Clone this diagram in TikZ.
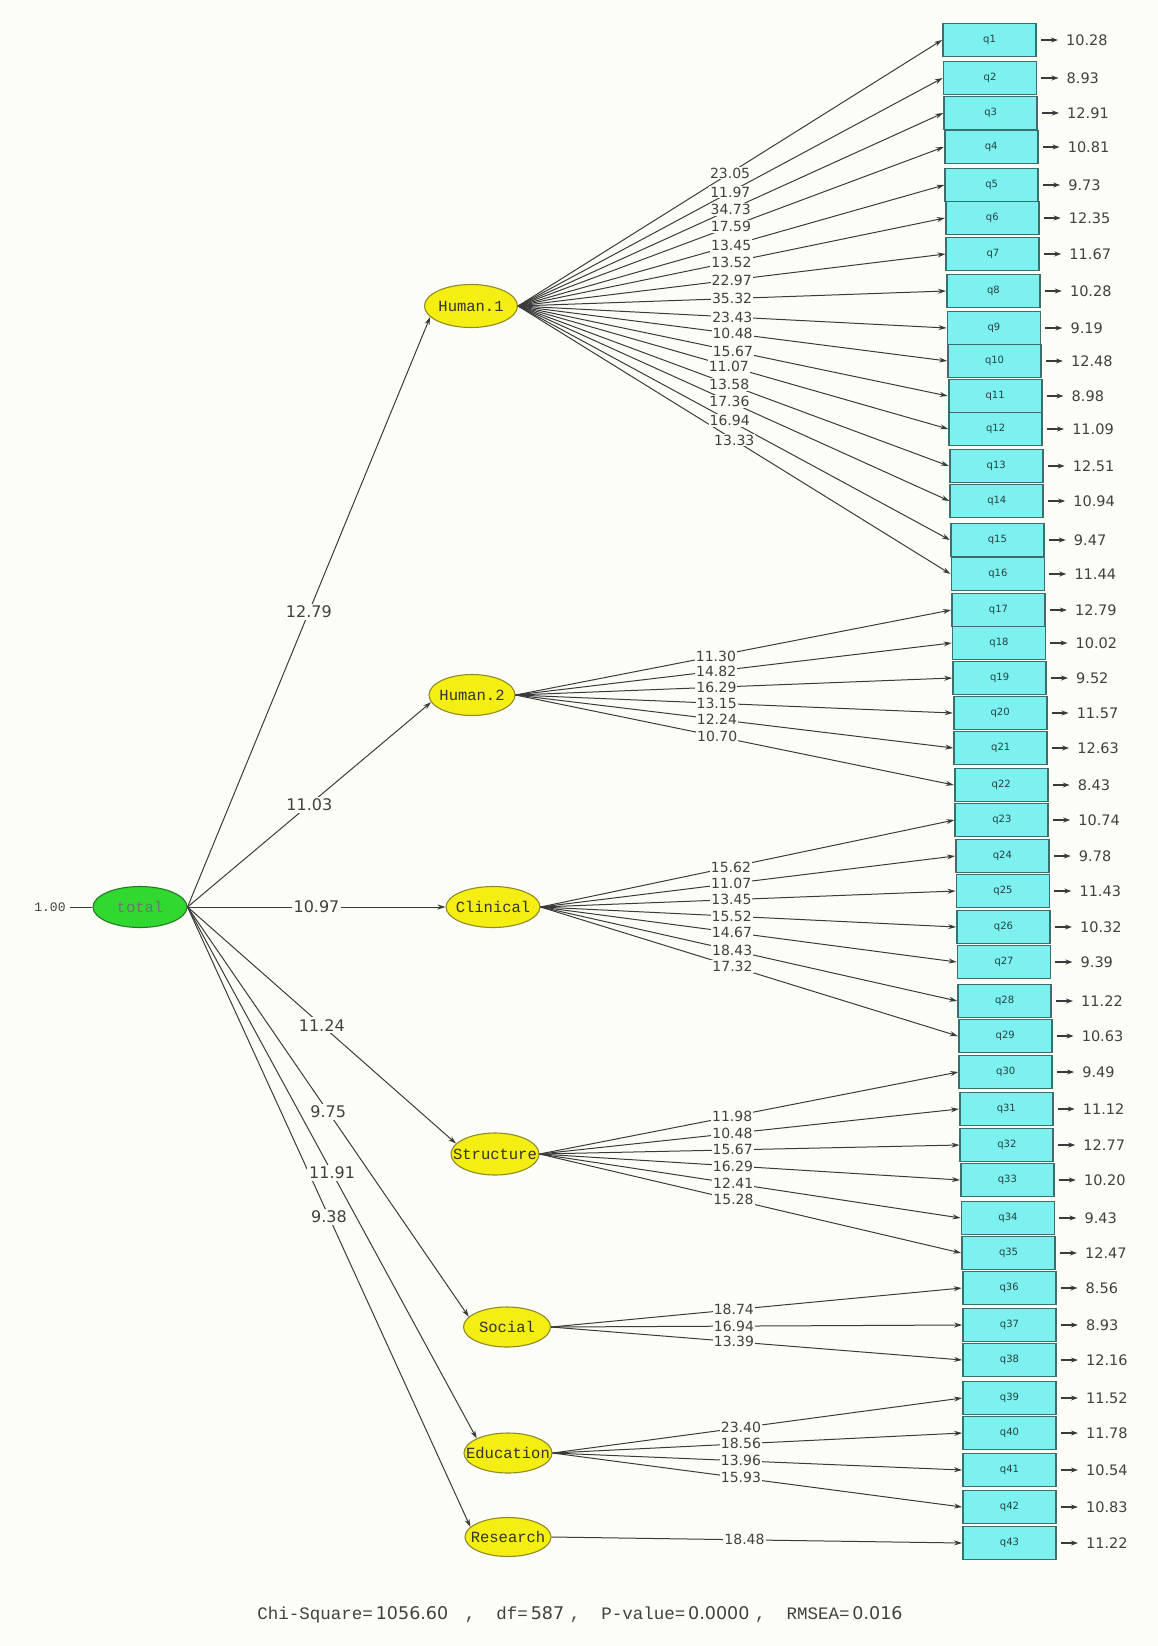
\documentclass[tikz,border=0pt]{standalone}
\usepackage{fontspec}
\setmainfont{DejaVu Sans}
\setsansfont{DejaVu Sans}
\setmonofont{Liberation Mono}
\usetikzlibrary{arrows.meta,shapes.geometric}
\definecolor{bg}{HTML}{FDFDF8}
\definecolor{boxfill}{HTML}{7DF1EF}
\definecolor{boxline}{HTML}{3C6E6E}
\definecolor{latfill}{HTML}{F4EE12}
\definecolor{latline}{HTML}{8E8A28}
\definecolor{totfill}{HTML}{30D830}
\definecolor{totline}{HTML}{267A26}
\definecolor{ink}{HTML}{3A3A3A}
\definecolor{txt}{HTML}{404040}
\begin{document}
\begin{tikzpicture}[x=1pt,y=-1pt,
  obs/.style={rectangle, draw=boxline, line width=1.8pt, fill=boxfill, minimum width=93pt, minimum height=33pt, inner sep=0pt, font=\fontsize{10}{10}\selectfont, text=boxline!60!black},
  lat/.style={ellipse, draw=latline, line width=1.1pt, fill=latfill, inner sep=0pt},
  totstyle/.style={ellipse, draw=totline, line width=1.1pt, fill=totfill, inner sep=0pt},
  lattext/.style={font=\fontsize{15.5}{16}\selectfont\ttfamily, text=black!80, inner sep=0pt},
  conn/.style={draw=ink, line width=1pt, -{Stealth[length=8pt,width=5pt]}},
  errar/.style={draw=ink, line width=1.3pt, -{Stealth[length=7pt,width=5pt]}},
  numlbl/.style={fill=bg, inner sep=1pt, text=txt, font=\fontsize{14}{14}\selectfont},
  tlbl/.style={fill=bg, inner sep=2pt, text=txt, font=\fontsize{16}{16}\selectfont},
  errlbl/.style={inner sep=0pt, text=txt, font=\fontsize{14.5}{14.5}\selectfont},
]
\useasboundingbox (0,0) rectangle (1158,1646);
\fill[bg] (0,0) rectangle (1158,1646);

% latent variables
\node[totstyle, minimum width=94pt, minimum height=41pt, label={[lattext, text=black!55]center:total}] (tot) at (140,907) {};
\node[lat, minimum width=93pt, minimum height=43pt, label={[lattext]center:Human.1}] (h1) at (471,306) {};
\node[lat, minimum width=86pt, minimum height=41pt, label={[lattext]center:Human.2}] (h2) at (472,695) {};
\node[lat, minimum width=94pt, minimum height=41pt, label={[lattext]center:Clinical}] (cl) at (493,907) {};
\node[lat, minimum width=88pt, minimum height=42pt, label={[lattext]center:Structure}] (st) at (495,1154) {};
\node[lat, minimum width=87pt, minimum height=40pt, label={[lattext]center:Social}] (so) at (507,1327) {};
\node[lat, minimum width=88pt, minimum height=40pt, label={[lattext]center:Education}] (ed) at (508,1453) {};
\node[lat, minimum width=86pt, minimum height=39pt, label={[lattext]center:Research}] (re) at (508,1537) {};

% variance of total
\node[font=\fontsize{13}{13}\selectfont\ttfamily, text=txt, inner sep=0pt] (var) at (50,907) {1.00};
\draw[draw=ink, line width=1pt] ([xshift=4pt]var.east) -- (tot.west);

% observed variables with error variances
\foreach \i/\y/\e in {1/40/10.28, 2/78/8.93, 3/113/12.91, 4/147/10.81, 5/185/9.73, 6/218/12.35, 7/254/11.67, 8/291/10.28, 9/328/9.19, 10/361/12.48, 11/396/8.98, 12/429/11.09, 13/466/12.51, 14/501/10.94, 15/540/9.47, 16/574/11.44, 17/610/12.79, 18/643/10.02, 19/678/9.52, 20/713/11.57, 21/748/12.63, 22/785/8.43, 23/820/10.74, 24/856/9.78, 25/891/11.43, 26/927/10.32, 27/962/9.39, 28/1001/11.22, 29/1036/10.63, 30/1072/9.49, 31/1109/11.12, 32/1145/12.77, 33/1180/10.20, 34/1218/9.43, 35/1253/12.47, 36/1288/8.56, 37/1325/8.93, 38/1360/12.16, 39/1398/11.52, 40/1433/11.78, 41/1470/10.54, 42/1507/10.83, 43/1543/11.22}{
  \pgfmathsetmacro\bx{min(943+0.56*(\i-1),963)+46.5}
  \node[obs] (q\i) at (\bx,\y) {q\i};
  \draw[errar] ([xshift=4pt]q\i.east) -- ([xshift=21pt]q\i.east);
  \node[errlbl, anchor=west] (e\i) at ([xshift=29pt]q\i.east) {\e};
}

% structural paths from total
\foreach \t/\a in {h1/195, h2/190, cl/180, st/165, so/165, ed/155, re/165}{
  \draw[conn] (tot.east) -- (\t.\a);
}

% loadings
\foreach \l/\i in {h1/1, h1/2, h1/3, h1/4, h1/5, h1/6, h1/7, h1/8, h1/9, h1/10, h1/11, h1/12, h1/13, h1/14, h1/15, h1/16, h2/17, h2/18, h2/19, h2/20, h2/21, h2/22, cl/23, cl/24, cl/25, cl/26, cl/27, cl/28, cl/29, st/30, st/31, st/32, st/33, st/34, st/35, so/36, so/37, so/38, ed/39, ed/40, ed/41, ed/42, re/43}{
  \draw[conn] (\l.east) -- (q\i.west);
}

% labels of structural paths
\foreach \t/\a/\v in {h1/195/12.79, h2/190/11.03, cl/180/10.97, st/165/11.24, so/165/9.75, ed/155/11.91, re/165/9.38}{
  \path (tot.east) -- (\t.\a) node[tlbl, pos=0.5] (t\t) {\v};
}

% labels of loadings
\foreach \l/\i/\v/\p in {h1/1/23.05/0.5, h1/2/11.97/0.5, h1/3/34.73/0.5, h1/4/17.59/0.5, h1/5/13.45/0.5, h1/6/13.52/0.5, h1/7/22.97/0.5, h1/8/35.32/0.5, h1/9/23.43/0.5, h1/10/10.48/0.5, h1/11/15.67/0.5, h1/12/11.07/0.49, h1/13/13.58/0.49, h1/14/17.36/0.49, h1/15/16.94/0.49, h1/16/13.33/0.5,
  h2/17/11.30/0.46, h2/18/14.82/0.46, h2/19/16.29/0.46, h2/20/13.15/0.46, h2/21/12.24/0.46, h2/22/10.70/0.46,
  cl/23/15.62/0.46, cl/24/11.07/0.46, cl/25/13.45/0.46, cl/26/15.52/0.46, cl/27/14.67/0.46, cl/28/18.43/0.46, cl/29/17.32/0.46,
  st/30/11.98/0.46, st/31/10.48/0.46, st/32/15.67/0.46, st/33/16.29/0.46, st/34/12.41/0.46, st/35/15.28/0.46,
  so/36/18.74/0.445, so/37/16.94/0.445, so/38/13.39/0.445,
  ed/39/23.40/0.46, ed/40/18.56/0.46, ed/41/13.96/0.46, ed/42/15.93/0.46,
  re/43/18.48/0.47}{
  \path (\l.east) -- (q\i.west) node[numlbl, pos=\p] (l\i) {\v};
}

% fit statistics
\node[text=txt, inner sep=0pt, font=\fontsize{17.5}{17.5}\selectfont] (fit) at (580,1615)
  {{\ttfamily Chi-Square=}\,1056.60\ \ \ {\ttfamily,\ \ df=}\,587\ {\ttfamily,\ \ P-value=}\,0.0000\ {\ttfamily,\ \ RMSEA=}\,0.016};
\end{tikzpicture}
\end{document}
